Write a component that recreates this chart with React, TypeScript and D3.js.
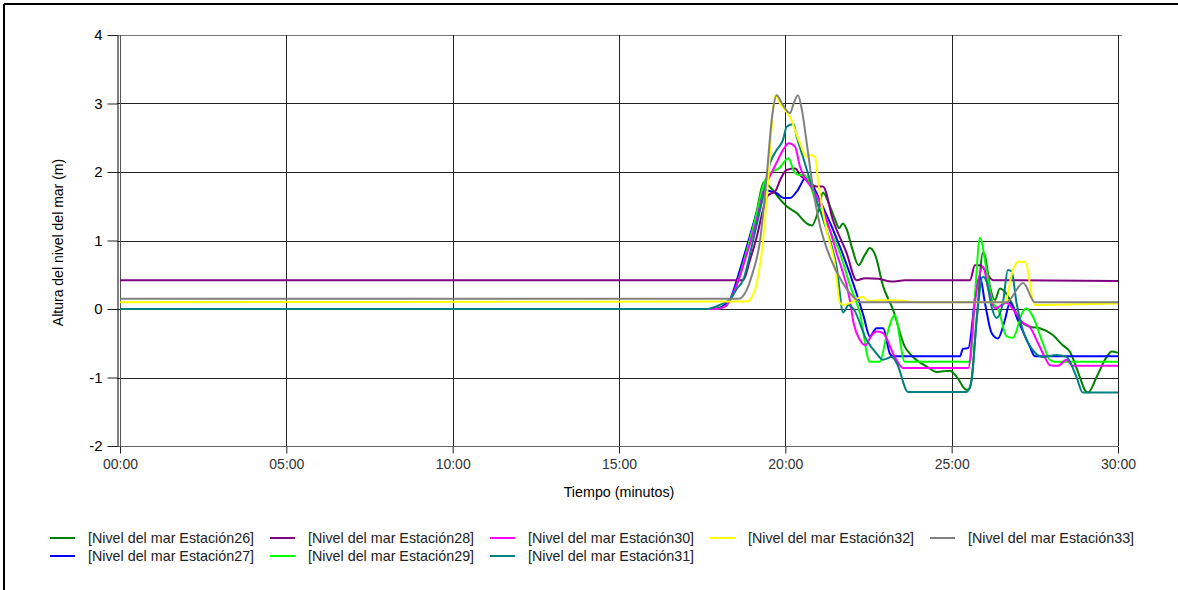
import React, { useEffect, useRef } from 'react'
import * as d3 from 'd3'

const width = 1178
const height = 590

// [tiempo (min), altura (m)]
const est26: [number, number][] = [
  [0, 0], [17.8, 0], [18.3, 0.1], [18.6, 0.45], [18.9, 0.95], [19.15, 1.45], [19.35, 1.85],
  [19.5, 1.8], [19.65, 1.72], [19.84, 1.6], [20.04, 1.5], [20.34, 1.4], [20.64, 1.25],
  [20.8, 1.22], [21.0, 1.45], [21.13, 1.7], [21.3, 1.55], [21.5, 1.3], [21.62, 1.18],
  [21.73, 1.25], [21.84, 1.17], [22.0, 0.9], [22.2, 0.64], [22.4, 0.8], [22.54, 0.89],
  [22.7, 0.79], [22.94, 0.33], [23.23, 0], [23.59, -0.55], [23.84, -0.7], [24.25, -0.84],
  [24.55, -0.92], [24.95, -0.9], [25.15, -0.99], [25.45, -1.18], [25.55, -1.15], [25.75, -0.16],
  [25.94, 0.82], [26.0, 0.78], [26.15, 0.33], [26.3, 0.13], [26.45, 0.3], [26.6, 0.25],
  [26.8, 0.09], [27.05, -0.16], [27.35, -0.26], [27.65, -0.28], [28.04, -0.38], [28.34, -0.53],
  [28.55, -0.62], [28.85, -0.99], [29.0, -1.18], [29.1, -1.22], [29.36, -0.99], [29.66, -0.7],
  [29.81, -0.62], [30, -0.64],
]

const est27: [number, number][] = [
  [0, 0], [17.9, 0], [18.15, 0.05], [18.33, 0.13], [18.54, 0.42], [18.84, 0.91], [19.14, 1.4],
  [19.39, 1.74], [19.55, 1.72], [19.74, 1.69], [19.95, 1.62], [20.14, 1.62], [20.38, 1.74],
  [20.6, 1.91], [20.75, 1.85], [21.13, 1.49], [21.64, 0.91], [22.14, 0.23], [22.35, -0.1],
  [22.54, -0.4], [22.74, -0.28], [22.94, -0.28], [23.14, -0.65], [23.23, -0.69], [25.25, -0.69],
  [25.34, -0.58], [25.5, -0.57], [25.75, 0.33], [25.85, 0.47], [26.0, 0.09], [26.2, -0.35],
  [26.39, -0.43], [26.6, -0.16], [26.75, 0.09], [26.99, -0.16], [27.35, -0.55], [27.5, -0.69],
  [30, -0.69],
]

const est28: [number, number][] = [
  [0, 0.42], [18.73, 0.42], [18.94, 0.72], [19.14, 1.05], [19.33, 1.45], [19.48, 1.66],
  [19.7, 1.72], [19.84, 1.88], [20.04, 2.03], [20.3, 2.05], [20.45, 1.95], [20.64, 1.88],
  [20.94, 1.79], [21.13, 1.79], [21.43, 1.3], [21.84, 0.82], [22.14, 0.42], [22.4, 0.45],
  [22.8, 0.44], [23.2, 0.4], [23.6, 0.42], [25.55, 0.42], [25.7, 0.64], [25.85, 0.64],
  [26.25, 0.42], [30, 0.41],
]

const est29: [number, number][] = [
  [0, 0], [17.9, 0], [18.2, 0.04], [18.5, 0.3], [18.84, 0.85], [19.14, 1.4], [19.33, 1.8],
  [19.54, 1.98], [19.8, 2.05], [20.1, 2.2], [20.24, 2.03], [20.38, 1.96], [20.6, 1.95],
  [20.9, 1.6], [21.24, 1.25], [21.64, 0.82], [21.94, 0.35], [22.24, -0.06], [22.54, -0.77],
  [22.84, -0.77], [23.04, -0.4], [23.29, -0.09], [23.59, -0.77], [25.55, -0.77], [25.7, 0.2],
  [25.85, 1.04], [26.05, 0.57], [26.24, 0.09], [26.4, 0.0], [26.65, -0.4], [26.84, -0.42],
  [27.14, -0.04], [27.25, 0.01], [27.44, -0.11], [27.74, -0.5], [27.95, -0.74], [28.1, -0.77],
  [30, -0.77],
]

const est30: [number, number][] = [
  [0, 0], [17.9, 0], [18.2, 0.04], [18.5, 0.3], [18.84, 0.8], [19.14, 1.3], [19.4, 1.8],
  [19.6, 2.0], [19.73, 2.13], [19.93, 2.32], [20.1, 2.42], [20.29, 2.37], [20.44, 2.08],
  [20.6, 1.9], [20.84, 1.74], [21.24, 1.3], [21.54, 0.82], [21.94, 0.13], [22.05, -0.2],
  [22.24, -0.45], [22.4, -0.53], [22.6, -0.38], [22.74, -0.33], [22.93, -0.35], [23.29, -0.7],
  [23.54, -0.86], [25.5, -0.86], [25.7, 0.1], [25.94, 0.62], [26.1, 0.3], [26.3, 0.01],
  [26.65, 0.09], [26.84, 0.0], [27.14, -0.2], [27.35, -0.26], [27.55, -0.45], [27.8, -0.7],
  [27.95, -0.82], [28.2, -0.83], [28.45, -0.74], [28.64, -0.83], [30, -0.83],
]

const est31: [number, number][] = [
  [0, 0], [17.63, 0], [18.03, 0.06], [18.35, 0.15], [18.55, 0.3], [18.73, 0.42], [19.03, 1.0],
  [19.33, 1.64], [19.54, 2.13], [19.74, 2.32], [19.93, 2.47], [20.04, 2.66], [20.24, 2.7],
  [20.35, 2.5], [20.53, 2.22], [20.83, 1.74], [21.24, 1.15], [21.54, 0.62], [21.74, -0.05],
  [21.9, 0.06], [22.05, 0.0], [22.44, -0.45], [22.74, -0.65], [22.93, -0.74], [23.2, -0.7],
  [23.35, -0.79], [23.69, -1.21], [25.45, -1.21], [25.6, -1.04], [25.75, -0.16], [25.94, 0.47],
  [26.05, 0.4], [26.2, 0.03], [26.35, -0.13], [26.54, 0.09], [26.69, 0.57], [26.8, 0.55],
  [26.95, 0.09], [27.14, -0.31], [27.44, -0.6], [27.74, -0.7], [28.15, -0.67], [28.45, -0.7],
  [28.75, -0.99], [28.94, -1.22], [30, -1.22],
]

const est32: [number, number][] = [
  [0, 0.1], [18.84, 0.11], [19.0, 0.18], [19.2, 0.52], [19.33, 1.0], [19.5, 2.0], [19.63, 2.9],
  [19.7, 3.12], [19.84, 3.0], [20.14, 2.8], [20.44, 2.42], [20.64, 2.22], [20.75, 2.25],
  [20.9, 2.22], [20.98, 1.88], [21.24, 1.15], [21.5, 0.62], [21.64, 0.09], [21.75, 0.06],
  [22.0, 0.1], [22.3, 0.18], [22.5, 0.12], [23.0, 0.13], [23.5, 0.12], [24.0, 0.1], [26.6, 0.1],
  [26.84, 0.57], [27.0, 0.69], [27.2, 0.69], [27.5, 0.06], [30, 0.08],
]

const est33: [number, number][] = [
  [0, 0.15], [18.6, 0.15], [18.84, 0.28], [19.0, 0.5], [19.24, 1.0], [19.45, 2.0], [19.6, 2.8],
  [19.74, 3.12], [19.9, 3.0], [20.14, 2.86], [20.25, 3.0], [20.38, 3.12], [20.5, 2.9],
  [20.65, 2.4], [20.85, 1.7], [21.05, 1.2], [21.35, 0.75], [21.7, 0.4], [22.1, 0.15],
  [22.3, 0.1], [26.65, 0.1], [27.15, 0.38], [27.5, 0.1], [30, 0.1],
]

const seriesData = [est26, est27, est28, est29, est30, est31, est32, est33]
const seriesNames = [
  '[Nivel del mar Estación26]', '[Nivel del mar Estación27]', '[Nivel del mar Estación28]',
  '[Nivel del mar Estación29]', '[Nivel del mar Estación30]', '[Nivel del mar Estación31]',
  '[Nivel del mar Estación32]', '[Nivel del mar Estación33]',
]
const seriesColors = ['#008000', '#0000ff', '#800080', '#00ff00', '#ff00ff', '#008080', '#ffff00', '#808080']

const xTicks = [0, 5, 10, 15, 20, 25, 30]
const xTickLabels = ['00:00', '05:00', '10:00', '15:00', '20:00', '25:00', '30:00']
const yTicks = [-2, -1, 0, 1, 2, 3, 4]

const font = '"Liberation Sans", Arial, sans-serif'

const App = () => {
  const ref = useRef<SVGSVGElement>(null)

  useEffect(() => {
    document.body.style.margin = '0'
    const svg = d3.select(ref.current)
    svg.selectAll('*').remove()

    const left = 120
    const right = 1118
    const top = 35
    const bottom = 446

    const x = d3.scaleLinear().domain([0, 30]).range([left, right])
    const y = d3.scaleLinear().domain([-2, 4]).range([bottom, top])

    svg.append('rect').attr('width', width).attr('height', height).attr('fill', '#fff')

    // marco
    svg.append('line').attr('x1', 4).attr('x2', 4).attr('y1', 4).attr('y2', height)
      .attr('stroke', '#000').attr('stroke-width', 2)
    svg.append('line').attr('x1', 4).attr('x2', width).attr('y1', 4).attr('y2', 4)
      .attr('stroke', '#000').attr('stroke-width', 2)

    // rejilla
    svg.append('g')
      .selectAll('line')
      .data(yTicks.filter(d => d > -2))
      .enter()
      .append('line')
      .attr('x1', left - 3)
      .attr('x2', d => (d === 4 ? right + 4 : right))
      .attr('y1', d => Math.round(y(d)) + 0.5)
      .attr('y2', d => Math.round(y(d)) + 0.5)
      .attr('stroke', d => (d === 4 ? '#777' : '#222'))

    svg.append('g')
      .selectAll('line')
      .data(xTicks.filter(d => d > 0))
      .enter()
      .append('line')
      .attr('x1', d => Math.round(x(d)) + 0.5)
      .attr('x2', d => Math.round(x(d)) + 0.5)
      .attr('y1', top)
      .attr('y2', bottom)
      .attr('stroke', '#222')

    // eje x
    const xAxis = d3.axisBottom(x)
      .tickValues(xTicks)
      .tickFormat((d, i) => xTickLabels[i])
      .tickSize(7)
      .tickSizeOuter(0)
      .tickPadding(6)
    const gx = svg.append('g').attr('transform', `translate(0,${bottom + 0.5})`).call(xAxis)
    gx.select('.domain').attr('stroke', '#666').attr('d', `M${left - 3},0H${right}`)
    gx.selectAll('.tick line').attr('stroke', '#222')
    gx.selectAll('text').attr('font-family', font).attr('font-size', 14).attr('fill', '#333')

    // eje y
    const yAxis = d3.axisLeft(y)
      .tickValues(yTicks)
      .tickFormat(d => String(d))
      .tickSize(10)
      .tickSizeOuter(0)
      .tickPadding(5)
    const gy = svg.append('g').attr('transform', `translate(${left - 2.5},0)`).call(yAxis)
    gy.select('.domain').attr('stroke', '#000')
    gy.selectAll('.tick line').attr('stroke', '#222')
    gy.selectAll('text').attr('font-family', font).attr('font-size', 15).attr('fill', '#000')
    svg.append('line')
      .attr('x1', left + 0.5).attr('x2', left + 0.5)
      .attr('y1', top).attr('y2', bottom)
      .attr('stroke', '#555')

    // series
    const line = d3.line<[number, number]>()
      .x(d => x(d[0]))
      .y(d => y(d[1]))
      .curve(d3.curveMonotoneX)

    seriesData.forEach((s, i) => {
      svg.append('path')
        .datum(s)
        .attr('d', line)
        .attr('fill', 'none')
        .attr('stroke', seriesColors[i])
        .attr('stroke-width', 2)
        .attr('stroke-linejoin', 'round')
    })

    // títulos
    svg.append('text')
      .attr('x', (left + right) / 2)
      .attr('y', 497)
      .attr('text-anchor', 'middle')
      .attr('font-family', font)
      .attr('font-size', 14.3)
      .attr('fill', '#000')
      .text('Tiempo (minutos)')

    svg.append('text')
      .attr('transform', `translate(63,${(top + bottom) / 2 + 2}) rotate(-90)`)
      .attr('text-anchor', 'middle')
      .attr('font-family', font)
      .attr('font-size', 14)
      .attr('fill', '#000')
      .text('Altura del nivel del mar (m)')

    // leyenda
    const legendCol = [0, 0, 1, 1, 2, 2, 3, 4]
    const legendRow = [0, 1, 0, 1, 0, 1, 0, 0]
    const legend = svg.append('g')
      .selectAll('g')
      .data(seriesNames)
      .enter()
      .append('g')
      .attr('transform', (d, i) => `translate(${50 + legendCol[i] * 220},${538 + legendRow[i] * 18})`)
    legend.append('line')
      .attr('x1', 0).attr('x2', 25)
      .attr('stroke', (d, i) => seriesColors[i])
      .attr('stroke-width', 2)
    legend.append('text')
      .attr('x', 38)
      .attr('y', 5)
      .attr('font-family', font)
      .attr('font-size', 14.3)
      .attr('fill', '#222')
      .text(d => d)
  }, [])

  return <svg ref={ref} width={width} height={height} style={{ display: 'block' }} />
}

export default App
